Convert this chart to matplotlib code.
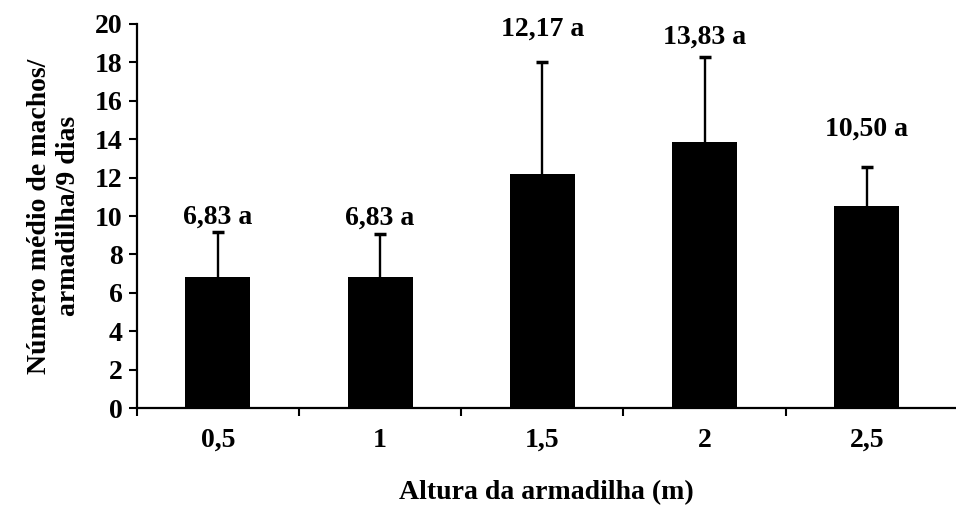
import numpy as np
import matplotlib
matplotlib.use("Agg")
import matplotlib.pyplot as plt

# data
alturas = ["0,5", "1", "1,5", "2", "2,5"]
medias = [6.83, 6.83, 12.17, 13.83, 10.50]
erros = [2.32, 2.21, 5.83, 4.42, 2.07]
letras = ["a", "a", "a", "a", "a"]

plt.rcParams["font.family"] = ["Liberation Serif", "DejaVu Serif"]
plt.rcParams["font.weight"] = "bold"
plt.rcParams["axes.labelweight"] = "bold"

fig = plt.figure(figsize=(9.56, 5.18), dpi=100)
ax = fig.add_axes([0.143, 0.212, 0.857, 0.742])

x = np.arange(len(alturas))
ax.bar(x, medias, width=0.4, color="black", zorder=2)
eb = ax.errorbar(x, medias, yerr=[np.zeros(len(erros)), erros], fmt="none",
                 ecolor="black", elinewidth=1.7, capsize=4, capthick=2.5, zorder=3)
eb[1][0].set_visible(False)  # no cap at the bar top

# manual gaps between error bar and label (as in the original)
gaps = [0.15, 0.2, 1.05, 0.4, 1.3]
for xi, m, e, l, g in zip(x, medias, erros, letras, gaps):
    txt = f"{m:.2f}".replace(".", ",") + " " + l
    ax.text(xi, m + e + g, txt, ha="center", va="bottom", fontsize=20)

ax.set_xlim(-0.5, 4.55)
ax.set_ylim(0, 20)
ax.set_yticks(np.arange(0, 21, 2))
ax.set_xticks(x)
ax.set_xticklabels(alturas)
ax.set_xticks(np.arange(-0.5, 4, 1), minor=True)
ax.tick_params(axis="x", which="major", length=0, pad=14, labelsize=20)
ax.tick_params(axis="x", which="minor", length=6, width=1.5, direction="out")
ax.tick_params(axis="y", length=6, width=1.5, direction="out", labelsize=20, pad=4)

for s in ["top", "right"]:
    ax.spines[s].set_visible(False)
for s in ["left", "bottom"]:
    ax.spines[s].set_linewidth(1.6)

ax.set_xlabel("Altura da armadilha (m)", fontsize=20, labelpad=20)
ax.set_ylabel("Número médio de machos/\narmadilha/9 dias", fontsize=20,
              labelpad=10, linespacing=1.2)

fig.savefig("out.png", dpi=100)
